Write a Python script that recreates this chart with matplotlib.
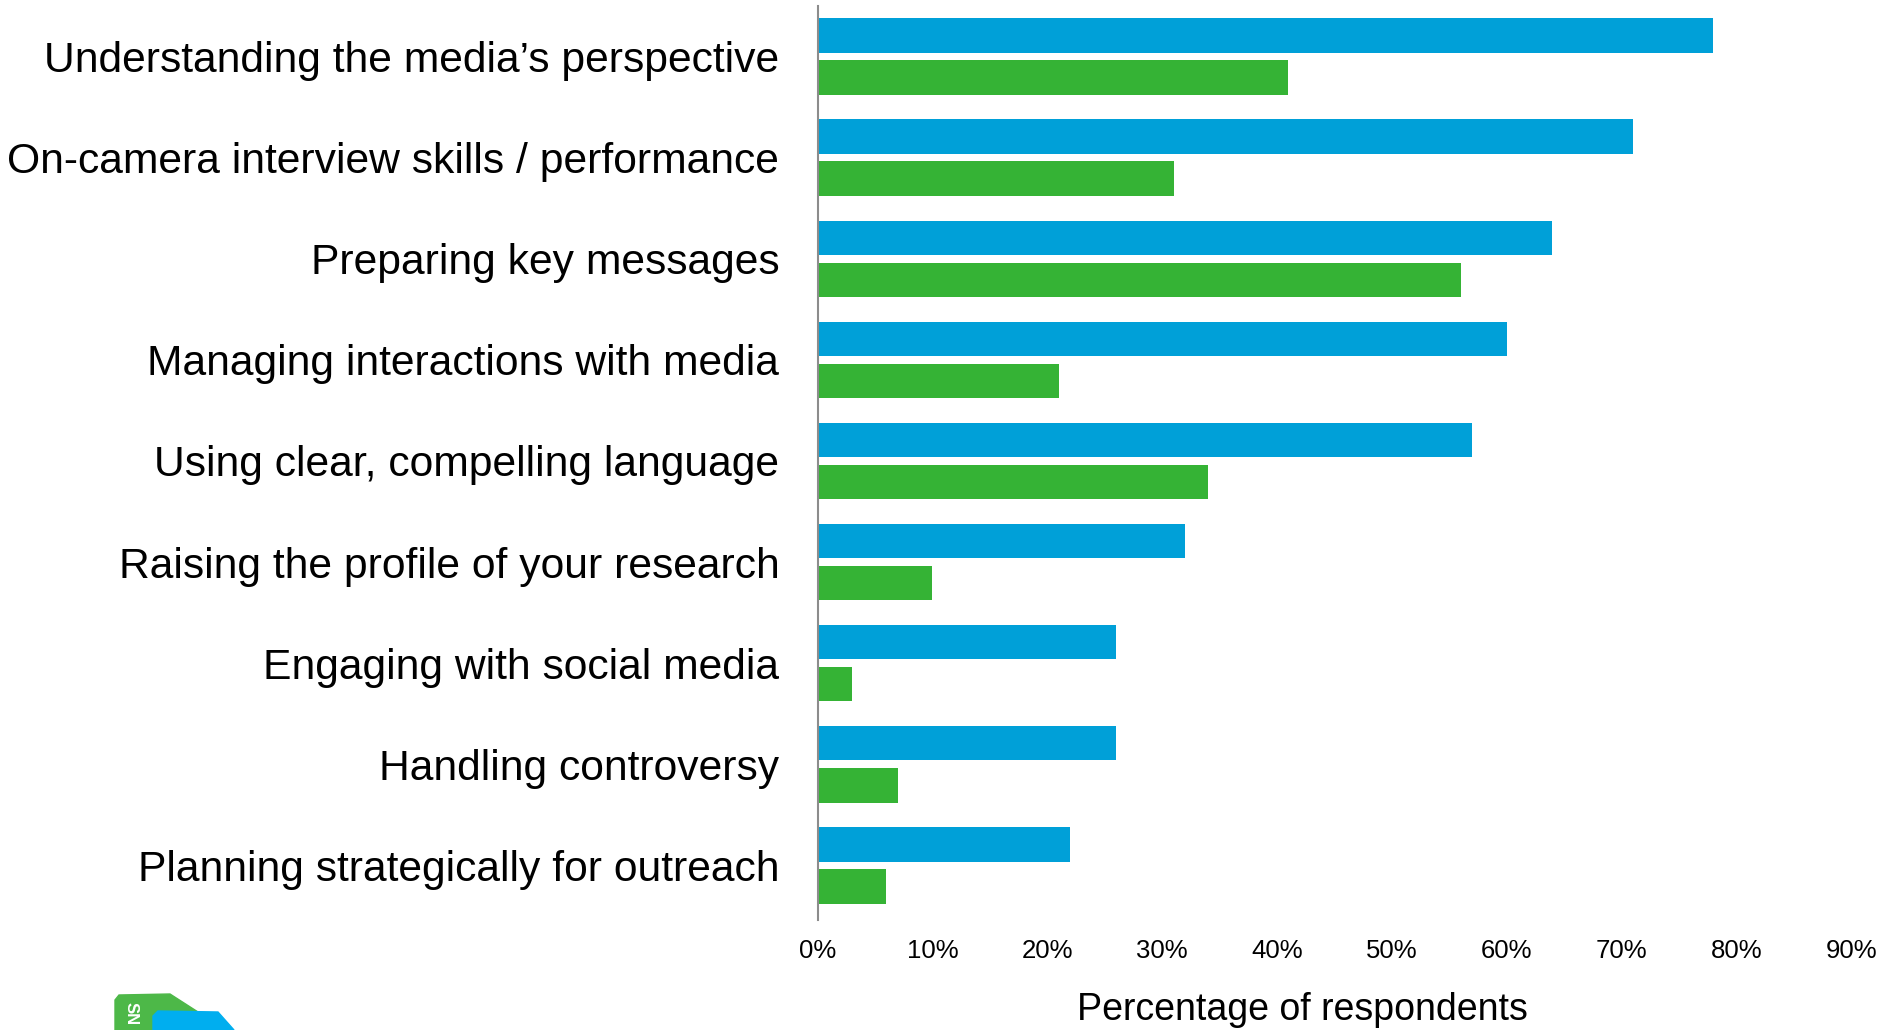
import numpy as np
import matplotlib.pyplot as plt
from matplotlib.patches import Polygon

plt.rcParams['font.family'] = ['Liberation Sans', 'DejaVu Sans']

# Survey topics, top to bottom
topics = [
    'Understanding the media\u2019s perspective',
    'On-camera interview skills / performance',
    'Preparing key messages',
    'Managing interactions with media',
    'Using clear, compelling language',
    'Raising the profile of your research',
    'Engaging with social media',
    'Handling controversy',
    'Planning strategically for outreach',
]
blue_vals = [78, 71, 64, 60, 57, 32, 26, 26, 22]
green_vals = [41, 31, 56, 21, 34, 10, 3, 7, 6]
x_ticks = [0, 10, 20, 30, 40, 50, 60, 70, 80, 90]
x_ticklabels = ['%d%%' % t for t in x_ticks]

blue = '#00A0D8'
green = '#35B335'

fig = plt.figure(figsize=(18.85, 10.3), dpi=100)
ax = fig.add_axes([0.4337, 0.1068, 0.5483, 0.8874])

y = np.arange(len(topics))
h = 0.34
off = 0.208
ax.barh(y - off, blue_vals, height=h, color=blue, edgecolor='none')
ax.barh(y + off, green_vals, height=h, color=green, edgecolor='none')

ax.set_xlim(0, 90)
ax.set_ylim(len(topics) - 0.46, -0.5)

ax.set_yticks(y)
ax.set_yticklabels(topics, fontsize=30.7)
ax.set_xticks(x_ticks)
ax.set_xticklabels(x_ticklabels, fontsize=18.5)
ax.tick_params(axis='y', length=0, pad=27.5)
ax.tick_params(axis='x', length=0, pad=14)

for s in ['top', 'right', 'bottom']:
    ax.spines[s].set_visible(False)
ax.spines['left'].set_color('#8c8c8c')
ax.spines['left'].set_linewidth(1.5)

fig.text(0.691, 0.019, 'Percentage of respondents', fontsize=27,
         ha='center', va='center')

# cropped logo shapes at the bottom-left corner
W, H = 1885.0, 1030.0
def fpoly(pts, color):
    p = Polygon([(px / W, 1 - py / H) for px, py in pts], closed=True,
                transform=fig.transFigure, color=color, zorder=5)
    fig.patches.append(p)

fpoly([(115, 1000), (119, 995), (170, 994), (198, 1012), (198, 1030), (115, 1030)], '#4DB848')
fpoly([(153, 1016), (158, 1011), (218, 1012), (234, 1030), (153, 1030)], '#00AEEF')
fig.text(131 / W, 1 - 1014 / H, 'SN', color='white', fontsize=12, fontweight='bold',
         rotation=-90, ha='center', va='center', zorder=10)

fig.savefig('out.png', dpi=100)
